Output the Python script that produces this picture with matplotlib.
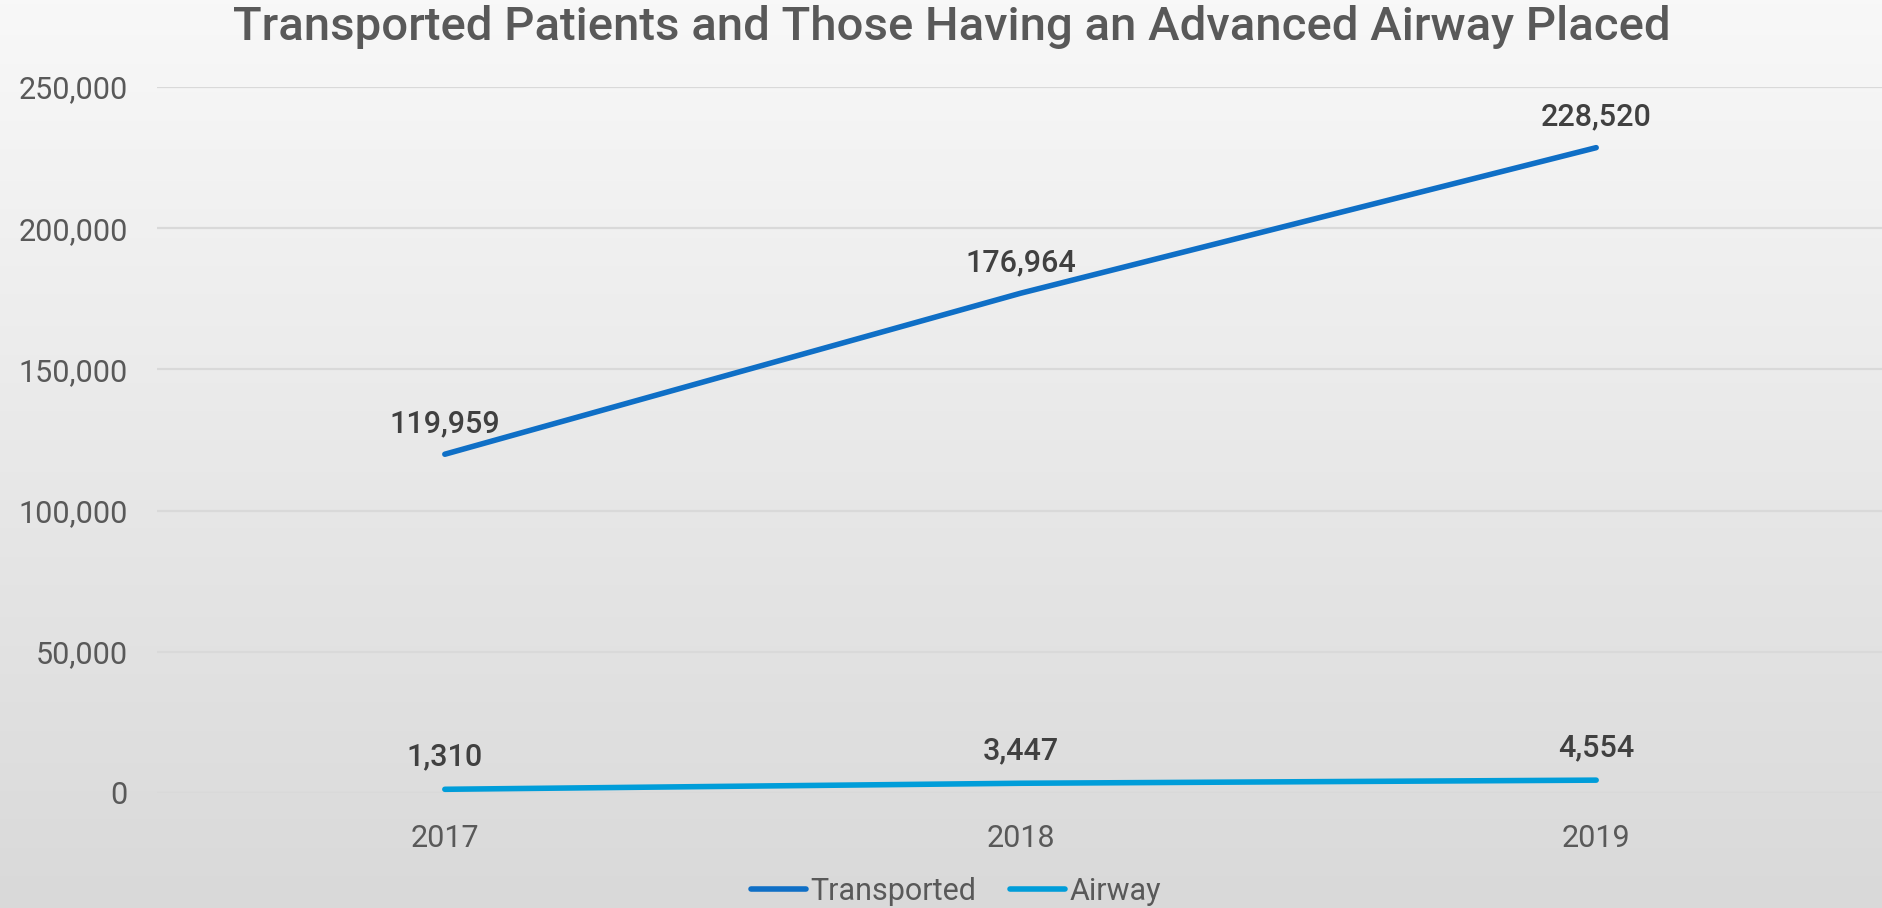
import numpy as np
import matplotlib
matplotlib.use("Agg")
import matplotlib.pyplot as plt
from matplotlib.ticker import FuncFormatter

# ---- data ----
years = ["2017", "2018", "2019"]
transported = [119959, 176964, 228520]
airway = [1310, 3447, 4554]
series_names = ["Transported", "Airway"]
title = "Transported Patients and Those Having an Advanced Airway Placed"
y_ticks = [0, 50000, 100000, 150000, 200000, 250000]

plt.rcParams['font.family'] = ['Roboto', 'Liberation Sans', 'DejaVu Sans']

W, H, DPI = 1882, 908, 100
fig = plt.figure(figsize=(W / DPI, H / DPI), dpi=DPI)

# gradient background
bg = fig.add_axes([0, 0, 1, 1], zorder=-10)
grad = np.linspace(0, 1, 256).reshape(-1, 1)
top = np.array([0.973, 0.973, 0.973])
bot = np.array([0.851, 0.851, 0.851])
img = top[None, None, :] * (1 - grad[:, :, None]) + bot[None, None, :] * grad[:, :, None]
bg.imshow(img, aspect='auto', extent=[0, 1, 0, 1], origin='upper')
bg.set_axis_off()

ax = fig.add_axes([157 / W, 115 / H, (1884 - 157) / W, (793 - 87) / H])
ax.set_facecolor('none')

x = np.arange(len(years))
c_trans = '#0F6FC6'
c_air = '#009DD9'
LW = 4.0
ax.plot(x, transported, color=c_trans, lw=LW, solid_capstyle='round', label=series_names[0], zorder=3)
ax.plot(x, airway, color=c_air, lw=LW, solid_capstyle='round', label=series_names[1], zorder=3)

for xi, v in zip(x, transported):
    ax.annotate(f"{v:,}", (xi, v), xytext=(0, 16), textcoords='offset points',
                ha='center', va='baseline', fontsize=22, color='#404040', fontweight='medium')
for xi, v in zip(x, airway):
    ax.annotate(f"{v:,}", (xi, v), xytext=(0, 17), textcoords='offset points',
                ha='center', va='baseline', fontsize=22, color='#404040', fontweight='medium')

ax.set_xlim(-0.5, 2.5)
ax.set_ylim(0, 250000)
ax.set_xticks(x)
ax.set_xticklabels(years)
ax.set_yticks(y_ticks)
ax.yaxis.set_major_formatter(FuncFormatter(lambda v, p: f"{int(v):,}"))
ax.tick_params(axis='both', length=0, labelsize=22, labelcolor='#595959')
ax.tick_params(axis='x', pad=22)
ax.tick_params(axis='y', pad=21)
ax.grid(axis='y', color='#d9d9d9', lw=1.6, zorder=0)
ax.set_axisbelow(True)
for s in ax.spines.values():
    s.set_visible(False)

fig.text(0.506, (H - 40) / H, title, ha='center', va='baseline', fontsize=34,
         color='#595959', fontweight='medium')

leg = fig.legend(loc='center', bbox_to_anchor=(956 / W, 17 / H), ncol=2, frameon=False,
                 fontsize=22, handlelength=1.8, handletextpad=0.15, columnspacing=1.1,
                 labelcolor='#595959')
for line in leg.get_lines():
    line.set_linewidth(LW)
    line.set_solid_capstyle('round')

fig.savefig("out.png", dpi=DPI)
